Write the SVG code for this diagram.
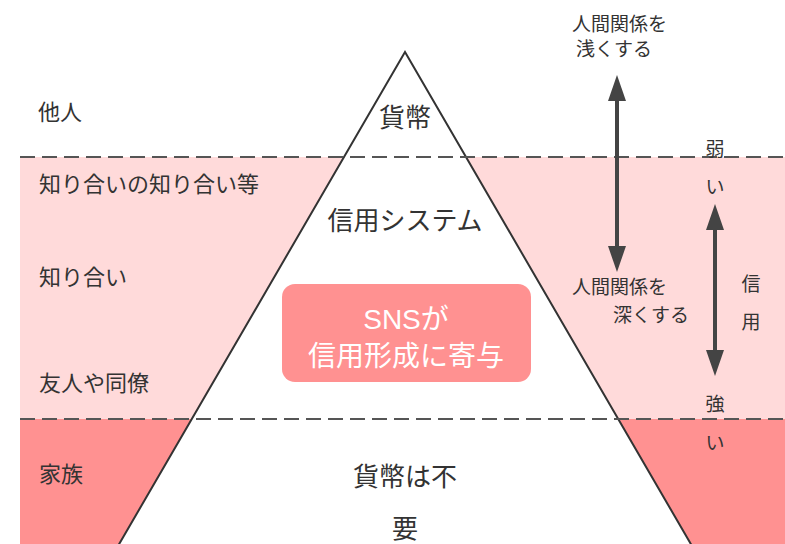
<svg xmlns="http://www.w3.org/2000/svg" width="785" height="544" viewBox="0 0 785 544">
<style>
text{font-family:"Noto Sans CJK JP","Liberation Sans",sans-serif;fill:#333;dominant-baseline:central}
.l{font-size:22px}
.c{font-size:26px;text-anchor:middle}
.r{font-size:19px}
.m{text-anchor:middle}
.w{fill:#fff;font-size:28px;text-anchor:middle;font-family:"Liberation Sans","Noto Sans CJK JP",sans-serif}
.dash{stroke:#555;stroke-width:2;stroke-dasharray:15 7;fill:none}
.arr{stroke:#444;stroke-width:4;fill:none}
</style>
<defs>
<marker id="ah" viewBox="0 0 26 18" refX="1" refY="9" markerWidth="26" markerHeight="18" markerUnits="userSpaceOnUse" orient="auto-start-reverse">
<path d="M0,0 L26,9 L0,18 Z" fill="#444"/>
</marker>
</defs>
<g id="bands">
<rect x="20" y="157" width="765" height="262" fill="#FFDADA"/>
<rect x="20" y="419" width="765" height="125" fill="#FF9191"/>
</g>
<g id="pyramid">
<path d="M405,52 L118,546 L692,546 Z" fill="#fff" stroke="#333" stroke-width="2" stroke-linejoin="miter"/>
</g>
<g id="dividers">
<line class="dash" x1="20" y1="157" x2="785" y2="157"/>
<line class="dash" x1="20" y1="419" x2="785" y2="419"/>
</g>
<g id="left-labels">
<g id="tanin"><text class="l" x="38" y="110">他人</text></g>
<g id="shiriai2"><text class="l" x="39" y="182">知り合いの知り合い等</text></g>
<g id="shiriai"><text class="l" x="39" y="275">知り合い</text></g>
<g id="yujin"><text class="l" x="39" y="381">友人や同僚</text></g>
<g id="kazoku"><text class="l" x="39" y="472">家族</text></g>
</g>
<g id="center-labels">
<g id="kahei"><text class="c" x="405" y="115">貨幣</text></g>
<g id="shinyo-system"><text class="c" x="405" y="218">信用システム</text></g>
<g id="fuyo"><text class="c" x="405" y="474">貨幣は不</text><text class="c" x="405" y="526">要</text></g>
</g>
<g id="sns">
<rect x="282" y="284" width="249" height="98" rx="13" fill="#FF9191"/>
<text class="w" x="406" y="319">SNSが</text>
<text class="w" x="406" y="356">信用形成に寄与</text>
</g>
<g id="connectors">
<line class="arr" x1="617" y1="247" x2="617" y2="100" marker-start="url(#ah)" marker-end="url(#ah)"/>
<line class="arr" x1="715" y1="351" x2="715" y2="229" marker-start="url(#ah)" marker-end="url(#ah)"/>
</g>
<g id="right-labels">
<g id="asaku"><text class="r" x="572" y="22">人間関係を</text><text class="r" x="576" y="47">浅くする</text></g>
<g id="fukaku"><text class="r" x="572" y="285">人間関係を</text><text class="r" x="613" y="313">深くする</text></g>
<g id="yowai"><text class="r m" x="715" y="147">弱</text><text class="r m" x="715" y="185">い</text></g>
<g id="shinyo"><text class="r m" x="751" y="282">信</text><text class="r m" x="751" y="320">用</text></g>
<g id="tsuyoi"><text class="r m" x="715" y="402">強</text><text class="r m" x="715" y="441">い</text></g>
</g>
</svg>
